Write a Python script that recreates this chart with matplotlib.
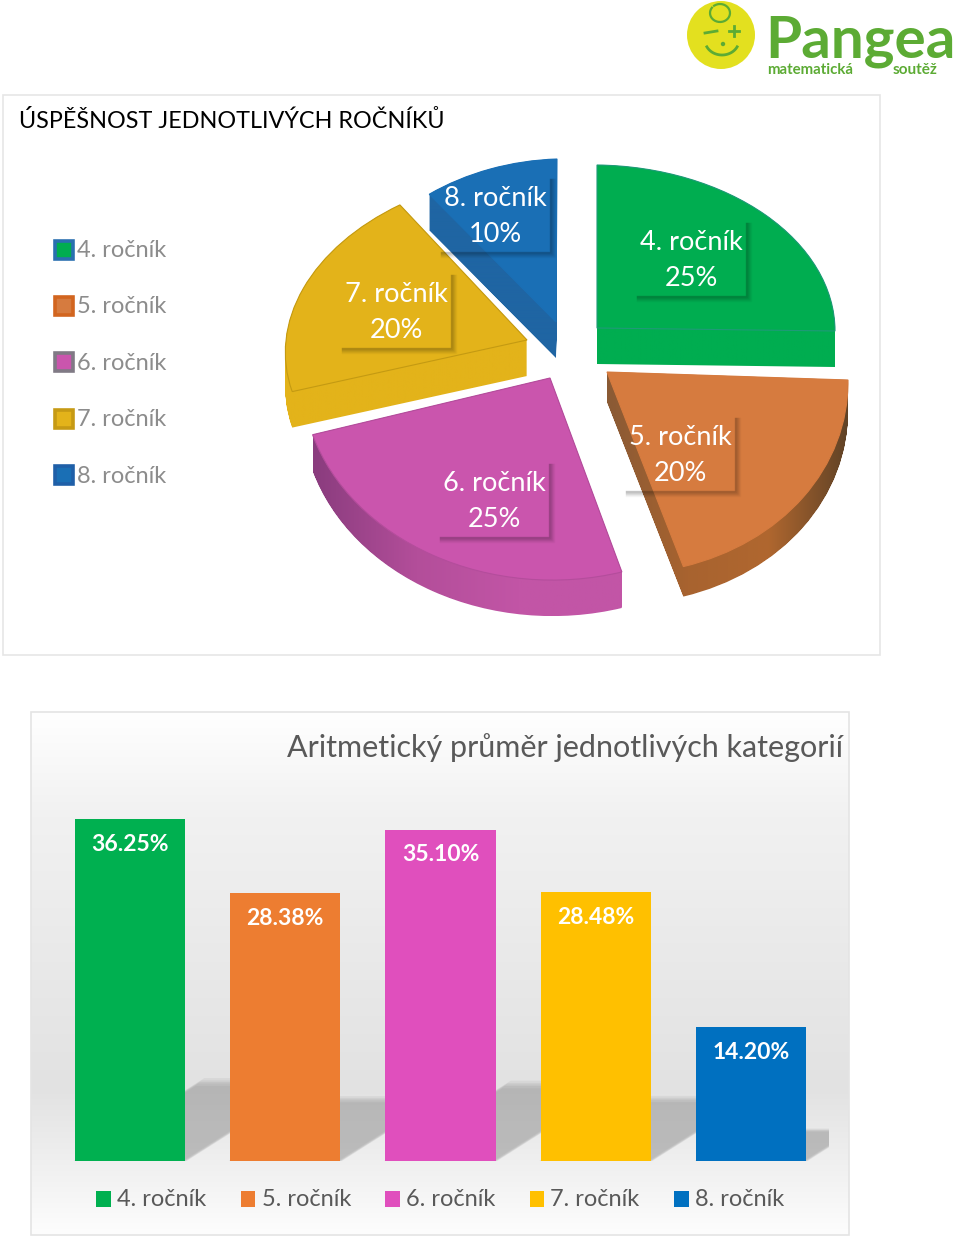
import numpy as np
import matplotlib
matplotlib.use("Agg")
import matplotlib.pyplot as plt
from matplotlib.colors import LinearSegmentedColormap
from matplotlib.patches import Circle, PathPatch, Rectangle, Wedge
from matplotlib.path import Path
from matplotlib.transforms import Affine2D

plt.rcParams["font.family"] = ["Lato", "DejaVu Sans"]

# data
grades = ["4. ročník", "5. ročník", "6. ročník", "7. ročník", "8. ročník"]
pie_share = [25, 20, 25, 20, 10]
mean_score = [36.25, 28.38, 35.10, 28.48, 14.20]

title_top = "ÚSPĚŠNOST JEDNOTLIVÝCH ROČNÍKŮ"
title_bottom = "Aritmetický průměr jednotlivých kategorií"

# colours
top_face = ["#00ad50", "#d67b3f", "#ca55ad", "#e3b31a", "#1a6fb5"]
edge_face = ["#1f9a78", "#d67b3f", "#b44d9c", "#c49a12", "#1a6fb5"]
wall_face = [
    ["#00ad50", "#00ad50"],
    ["#8a5a35", "#a8632f", "#b0672f", "#5f4226"],
    ["#8a3c7e", "#b34e9a", "#c255a6", "#c255a6"],
    ["#e3b31a", "#e3b31a"],
    ["#1f65a3", "#1f65a3"],
]
key_border = ["#2a6fb0", "#d2651f", "#807a85", "#c69a14", "#1f5fa8"]
bar_colors = ["#00b050", "#ed7d31", "#e04fbd", "#ffc000", "#0070c0"]

# how each slice of the tilted pie lands on the page: a, b, c, d, x, y, wall
slice_place = [
    (238, 3, 0, -163, 597, 328, 36),
    (241, 8, -2, -202, 607, 372, 30),
    (248, 6, 5, -202, 550, 378, 36),
    (241, 0, 18, -167, 527, 340, 36),
    (217, -7, 1, -163, 556, 322, 36),
]
label_place = [(691, 259), (680, 454), (494, 500), (396, 311), (495, 215)]

fig = plt.figure(figsize=(9.6, 12.38), dpi=100)

# page axes in pixels
page = fig.add_axes([0, 0, 1, 1], zorder=0)
wedges, _ = page.pie(pie_share, startangle=90, counterclock=False, radius=1)
page.set_aspect("auto")

# gradient behind the bar chart
grad = LinearSegmentedColormap.from_list(
    "panel",
    [(0, "#ffffff"), (0.2, "#f1f1f1"), (0.72, "#e2e2e2"), (0.9, "#f3f3f3"), (1, "#fdfdfd")],
)
page.imshow(np.linspace(0, 1, 256).reshape(-1, 1), cmap=grad, aspect="auto",
            extent=(31, 849, 1235, 712), zorder=0)
page.add_patch(Rectangle((31, 712), 818, 523, fill=False, ec="#e4e4e4", lw=1.2, zorder=1))
page.add_patch(Rectangle((2.5, 95), 877, 560, fill=False, ec="#e6e6e6", lw=1.2, zorder=1))

# pie: wall first, then the face on top
for w, place, face, edge, wall in zip(wedges, slice_place, top_face, edge_face, wall_face):
    a, b, c, d, x, y, height = place
    parts = []
    for dy in np.arange(height, -1, -1.0):
        tr = Affine2D.from_values(a, b, c, d, x, y + dy)
        part = Wedge((0, 0), 1, w.theta1, w.theta2)
        parts.append(part.get_path().transformed(tr))
    shape = Path.make_compound_path(*parts)
    bounds = shape.get_extents()
    fill = LinearSegmentedColormap.from_list("wall", wall)
    img = page.imshow(np.linspace(0, 1, 256).reshape(1, -1), cmap=fill, aspect="auto",
                      extent=(bounds.x0, bounds.x1, bounds.y1, bounds.y0), zorder=2)
    img.set_clip_path(PathPatch(shape, transform=page.transData))
    w.set_transform(Affine2D.from_values(a, b, c, d, x, y) + page.transData)
    w.set_facecolor(face)
    w.set_edgecolor(edge)
    w.set_linewidth(0.8)
    w.set_zorder(3)

page.set_xlim(0, 960)
page.set_ylim(1238, 0)
page.axis("off")

# pie labels with their soft shadow
for name, share, (x, y) in zip(grades, pie_share, label_place):
    left, right, top, bottom = x - 54, x + 54, y - 36, y + 36
    for off, alpha in zip(range(1, 7), [0.2, 0.18, 0.14, 0.1, 0.06, 0.03]):
        page.plot([left, right + off, right + off], [bottom + off, bottom + off, top],
                  color="black", alpha=alpha, lw=1, zorder=4)
    page.text(x, y - 16.5, name, color="white", fontsize=19.5, ha="center", va="center", zorder=5)
    page.text(x, y + 19.5, f"{share}%", color="white", fontsize=19.5, ha="center", va="center", zorder=5)

# left legend of the pie
for i, (name, face, border) in enumerate(zip(grades, top_face, key_border)):
    y = 249.5 + i * 56.4
    page.add_patch(Rectangle((55, y - 9), 18, 18, fc=face, ec=border, lw=2.6, zorder=3))
    page.text(77, y + 1, name, color="#8c8c8c", fontsize=17, va="center", zorder=3)

page.text(19, 121, title_top, color="black", fontsize=16.8, va="center", zorder=3)
page.text(843, 748, title_bottom, color="#595959", fontsize=22, ha="right", va="center", zorder=3)

# bottom legend
for i, (name, color) in enumerate(zip(grades, bar_colors)):
    x = 96 + i * 144.5
    page.add_patch(Rectangle((x, 1191), 14.5, 15.5, fc=color, ec="none", zorder=3))
    page.text(x + 21, 1200, name, color="#595959", fontsize=17, va="center", zorder=3)

# logo
green = "#5cab34"
page.add_patch(Circle((721, 35), 34, fc="#e3e01f", ec="none", zorder=3))
page.plot([705, 717], [33, 31], color=green, lw=2, zorder=4)
page.plot([729, 739, None, 734, 734], [31, 31, None, 26, 36], color=green, lw=2, zorder=4)
page.add_patch(Circle((723, 44), 2.2, fc=green, ec="none", zorder=4))
smile = np.linspace(0.15, 0.85, 30) * np.pi
page.plot(722 + 17 * np.cos(smile), 40 + 15 * np.sin(smile), color=green, lw=2, zorder=4)
curl = np.linspace(-0.7, 1.2, 30) * np.pi
page.plot(720 + 10 * np.cos(curl), 13 + 9 * np.sin(curl), color=green, lw=1.6, zorder=4)
page.text(765, 41, "Pangea", color=green, fontsize=42, fontweight="bold", va="center", zorder=3)
page.text(767, 70, "matematická", color=green, fontsize=10.8, fontweight="bold", va="center", zorder=3)
page.text(893, 70, "soutěž", color=green, fontsize=11, fontweight="bold", va="center", zorder=3)

# bars
ax = fig.add_axes([52.4 / 960, 77 / 1238, 776.2 / 960, 442 / 1238], zorder=1)
ax.patch.set_alpha(0)
ax.set_xlim(-0.5, 4.5)
ax.set_ylim(0, 442 / 9.434)
ax.axis("off")
x_pos = np.arange(len(grades))

# floor shadow: the same bars sheared and flattened, stacked to look blurred
shear = Affine2D.from_values(1, 0, 0.096, 1, 0, 0) + ax.transData
for grow, spread in zip([1.05, 1.02, 1.0, 0.98, 0.95], [0.73, 0.72, 0.71, 0.7, 0.68]):
    shadow = ax.bar(x_pos, np.array(mean_score) * 0.231 * grow, width=spread, color="#707070",
                    alpha=0.09, zorder=1)
    for patch in shadow:
        patch.set_transform(shear)

bars = ax.bar(x_pos, mean_score, width=0.71, color=bar_colors, zorder=2)
for bar, val in zip(bars, mean_score):
    ax.annotate(f"{val:.2f}%", (bar.get_x() + bar.get_width() / 2, val), xytext=(0, -18),
                textcoords="offset points", ha="center", va="center", color="white",
                fontsize=16.5, fontweight="bold", zorder=3)

fig.savefig("out.png", dpi=100)
